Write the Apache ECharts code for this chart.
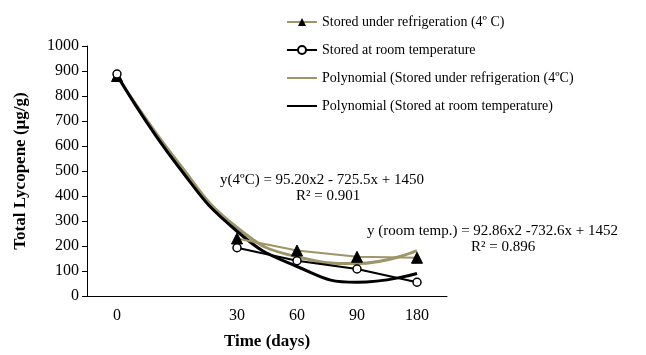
<!DOCTYPE html>
<html>
<head>
<meta charset="utf-8">
<script src="https://cdn.jsdelivr.net/npm/echarts@6/dist/echarts.min.js"></script>
<style>
  html, body { margin: 0; padding: 0; background: #fff; }
  #chart { width: 646px; height: 355px; }
</style>
</head>
<body>
<div id="chart"></div>
<script>
// categories (blank slot between 0 and 30 as in the original sheet)
var days = ['0', '', '30', '60', '90', '180'];

// measured values
var fridge = [880, null, 230, 182, 157, 153];
var roomTemp = [888, null, 193, 141, 108, 55];

// polynomial trend lines at each slot
var fridgeTrend = [882, 540, 274, 157, 130, 182];
var roomTrend = [884, 525, 259, 118, 55, 90];

var tan = '#9d9468';
var serif = 'Liberation Serif';

var chart = echarts.init(document.getElementById('chart'));

chart.setOption({
  animation: false,
  textStyle: { fontFamily: serif, color: '#000' },
  grid: { left: 87, right: 199, top: 46, bottom: 57 },
  legend: {
    orient: 'vertical',
    left: 281,
    top: 10,
    itemWidth: 30,
    itemHeight: 10,
    itemGap: 14,
    textStyle: { fontFamily: serif, fontSize: 14, color: '#000' },
    data: [
      { name: 'Stored under refrigeration (4º C)' },
      { name: 'Stored at room temperature' },
      { name: 'Polynomial (Stored under refrigeration (4ºC)', itemStyle: { opacity: 0 } },
      { name: 'Polynomial (Stored at room temperature)', itemStyle: { opacity: 0 } }
    ]
  },
  xAxis: {
    type: 'category',
    data: days,
    name: 'Time (days)',
    nameLocation: 'middle',
    nameGap: 37,
    nameTextStyle: { fontFamily: serif, fontSize: 17, fontWeight: 'bold', color: '#000' },
    axisLine: { lineStyle: { color: '#000', width: 1 } },
    axisTick: { length: 5, lineStyle: { color: '#000' } },
    axisLabel: { fontFamily: serif, fontSize: 16, color: '#000', margin: 12 },
    splitLine: { show: false }
  },
  yAxis: {
    type: 'value',
    min: 0,
    max: 1000,
    interval: 100,
    name: 'Total Lycopene (µg/g)',
    nameLocation: 'middle',
    nameGap: 58,
    nameRotate: 90,
    nameTextStyle: { fontFamily: serif, fontSize: 17, fontWeight: 'bold', color: '#000' },
    axisLine: { show: true, lineStyle: { color: '#000', width: 1 } },
    axisTick: { show: true, length: 5, lineStyle: { color: '#000' } },
    axisLabel: {
      fontFamily: serif, fontSize: 16, color: '#000', margin: 8,
      formatter: function (v) { return String(v); }
    },
    splitLine: { show: false }
  },
  series: [
    {
      name: 'Polynomial (Stored under refrigeration (4ºC)',
      type: 'line',
      data: fridgeTrend,
      smooth: true,
      symbol: 'none',
      lineStyle: { color: tan, width: 3 },
      itemStyle: { color: tan }
    },
    {
      name: 'Polynomial (Stored at room temperature)',
      type: 'line',
      data: roomTrend,
      smooth: true,
      symbol: 'none',
      lineStyle: { color: '#000', width: 3 },
      itemStyle: { color: '#000' }
    },
    {
      name: 'Stored under refrigeration (4º C)',
      type: 'line',
      data: fridge,
      symbol: 'triangle',
      symbolSize: 11,
      lineStyle: { color: tan, width: 2 },
      itemStyle: { color: '#000', borderColor: '#000' }
    },
    {
      name: 'Stored at room temperature',
      type: 'line',
      data: roomTemp,
      symbol: 'circle',
      symbolSize: 8,
      lineStyle: { color: '#000', width: 2 },
      itemStyle: { color: '#fff', borderColor: '#000', borderWidth: 1.5 }
    }
  ],
  graphic: [
    {
      type: 'text', left: 220, top: 173,
      style: { text: 'y(4ºC) = 95.20x2 - 725.5x + 1450', font: '15px "Liberation Serif"', fill: '#000' }
    },
    {
      type: 'text', left: 296, top: 189,
      style: { text: 'R² = 0.901', font: '15px "Liberation Serif"', fill: '#000' }
    },
    {
      type: 'text', left: 367, top: 224,
      style: { text: 'y (room temp.) = 92.86x2 -732.6x + 1452', font: '15px "Liberation Serif"', fill: '#000' }
    },
    {
      type: 'text', left: 471, top: 240,
      style: { text: 'R² = 0.896', font: '15px "Liberation Serif"', fill: '#000' }
    }
  ]
});
</script>
</body>
</html>
